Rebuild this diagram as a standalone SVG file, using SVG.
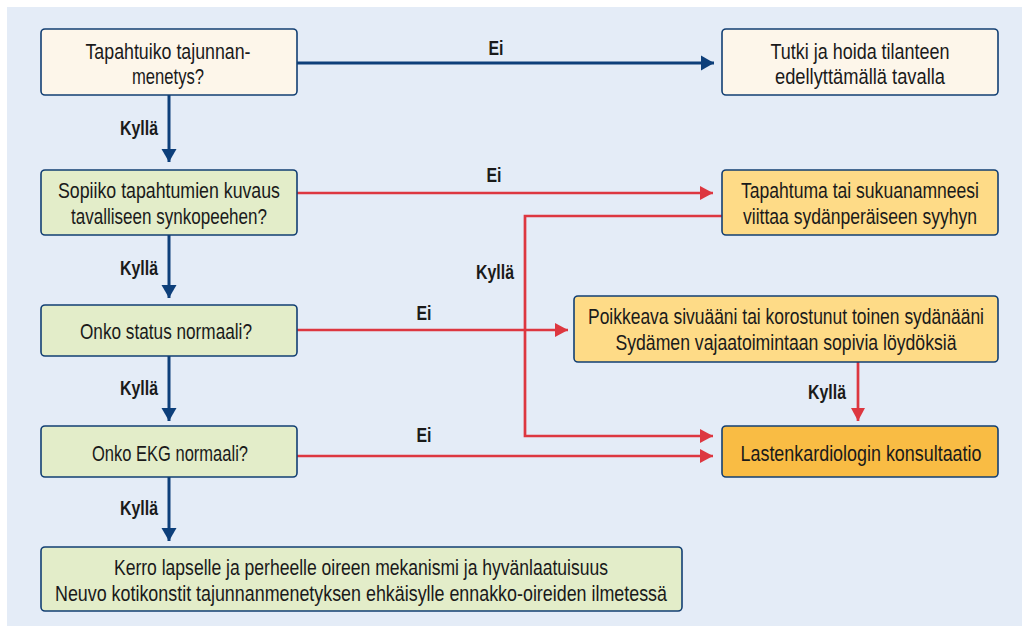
<svg xmlns="http://www.w3.org/2000/svg" width="1022" height="626" viewBox="0 0 1022 626">
<defs>
<style>
text{font-family:"Liberation Sans","Arial",sans-serif;font-size:22px;fill:#1a1a1a;text-anchor:middle}
.lbl{font-weight:bold;font-size:21px}
.box{stroke:#123f73;stroke-width:1.6}
.cream{fill:#fdf6ea}
.green{fill:#e3edc9}
.lo{fill:#fedb87}
.or{fill:#f9bc44}
.blue{stroke:#0d3f7a;stroke-width:3;fill:none}
.red{stroke:#dd3740;stroke-width:2.7;fill:none}
</style>
<marker id="ab" markerUnits="userSpaceOnUse" markerWidth="16" markerHeight="16" refX="13" refY="8" orient="auto"><path d="M0,0.5 L13,8 L0,15.5 Z" fill="#0d3f7a"/></marker>
<marker id="ar" markerUnits="userSpaceOnUse" markerWidth="16" markerHeight="16" refX="13" refY="8" orient="auto"><path d="M0,1 L13,8 L0,15 Z" fill="#dd3740"/></marker>
</defs>
<rect x="0" y="0" width="1022" height="626" fill="#ffffff"/>
<rect x="7" y="7" width="1015" height="619" fill="#e4ecf7"/>
<g id="connectors">
<path class="blue" d="M297,63 H714" marker-end="url(#ab)"/>
<path class="blue" d="M169,95 V162" marker-end="url(#ab)"/>
<path class="blue" d="M169,235 V298" marker-end="url(#ab)"/>
<path class="blue" d="M169,356 V421" marker-end="url(#ab)"/>
<path class="blue" d="M169,477 V541" marker-end="url(#ab)"/>
<path class="red" d="M297,193 H713" marker-end="url(#ar)"/>
<path class="red" d="M722,216 H525 V436 H713" marker-end="url(#ar)"/>
<path class="red" d="M297,330 H568" marker-end="url(#ar)"/>
<path class="red" d="M858,362 V421" marker-end="url(#ar)"/>
<path class="red" d="M297,456 H713" marker-end="url(#ar)"/>
<g transform="scale(0.8 1)">
<text class="lbl" x="620" y="55" textLength="18.75" lengthAdjust="spacingAndGlyphs">Ei</text>
<text class="lbl" x="173.75" y="135" textLength="47.5" lengthAdjust="spacingAndGlyphs">Kyllä</text>
<text class="lbl" x="617.5" y="182" textLength="18.75" lengthAdjust="spacingAndGlyphs">Ei</text>
<text class="lbl" x="173.75" y="275" textLength="47.5" lengthAdjust="spacingAndGlyphs">Kyllä</text>
<text class="lbl" x="618.75" y="279" textLength="47.5" lengthAdjust="spacingAndGlyphs">Kyllä</text>
<text class="lbl" x="530" y="320" textLength="18.75" lengthAdjust="spacingAndGlyphs">Ei</text>
<text class="lbl" x="173.75" y="395" textLength="47.5" lengthAdjust="spacingAndGlyphs">Kyllä</text>
<text class="lbl" x="1033.75" y="399" textLength="47.5" lengthAdjust="spacingAndGlyphs">Kyllä</text>
<text class="lbl" x="530" y="442" textLength="18.75" lengthAdjust="spacingAndGlyphs">Ei</text>
<text class="lbl" x="173.75" y="515" textLength="47.5" lengthAdjust="spacingAndGlyphs">Kyllä</text>
</g>
</g>
<g id="n1"><rect class="box cream" x="41" y="29" width="256" height="66" rx="4"/><g transform="scale(0.8 1)"><text x="210" y="59" textLength="206.25" lengthAdjust="spacingAndGlyphs">Tapahtuiko tajunnan-</text><text x="210" y="84" textLength="90" lengthAdjust="spacingAndGlyphs">menetys?</text></g></g>
<g id="n2"><rect class="box cream" x="722" y="29" width="276" height="66" rx="4"/><g transform="scale(0.8 1)"><text x="1075" y="59" textLength="223.75" lengthAdjust="spacingAndGlyphs">Tutki ja hoida tilanteen</text><text x="1075" y="84" textLength="212.5" lengthAdjust="spacingAndGlyphs">edellyttämällä tavalla</text></g></g>
<g id="n3"><rect class="box green" x="41" y="170" width="256" height="65" rx="4"/><g transform="scale(0.8 1)"><text x="211.25" y="198" textLength="277.5" lengthAdjust="spacingAndGlyphs">Sopiiko tapahtumien kuvaus</text><text x="211.25" y="224" textLength="245" lengthAdjust="spacingAndGlyphs">tavalliseen synkopeehen?</text></g></g>
<g id="n4"><rect class="box lo" x="722" y="170" width="276" height="65" rx="4"/><g transform="scale(0.8 1)"><text x="1075" y="198" textLength="297.5" lengthAdjust="spacingAndGlyphs">Tapahtuma tai sukuanamneesi</text><text x="1075" y="224" textLength="292.5" lengthAdjust="spacingAndGlyphs">viittaa sydänperäiseen syyhyn</text></g></g>
<g id="n5"><rect class="box green" x="41" y="305" width="256" height="51" rx="4"/><g transform="scale(0.8 1)"><text x="207.5" y="339" textLength="215" lengthAdjust="spacingAndGlyphs">Onko status normaali?</text></g></g>
<g id="n6"><rect class="box lo" x="574" y="296" width="424" height="66" rx="4"/><g transform="scale(0.8 1)"><text x="982.5" y="324" textLength="495" lengthAdjust="spacingAndGlyphs">Poikkeava sivuääni tai korostunut toinen sydänääni</text><text x="982.5" y="350" textLength="426.25" lengthAdjust="spacingAndGlyphs">Sydämen vajaatoimintaan sopivia löydöksiä</text></g></g>
<g id="n7"><rect class="box green" x="41" y="426" width="256" height="51" rx="4"/><g transform="scale(0.8 1)"><text x="212.5" y="461" textLength="195" lengthAdjust="spacingAndGlyphs">Onko EKG normaali?</text></g></g>
<g id="n8"><rect class="box or" x="722" y="426" width="276" height="51" rx="4"/><g transform="scale(0.8 1)"><text x="1076.25" y="461" textLength="301.25" lengthAdjust="spacingAndGlyphs">Lastenkardiologin konsultaatio</text></g></g>
<g id="n9"><rect class="box green" x="41" y="547" width="641" height="64" rx="4"/><g transform="scale(0.8 1)"><text x="451.25" y="575" textLength="617.5" lengthAdjust="spacingAndGlyphs">Kerro lapselle ja perheelle oireen mekanismi ja hyvänlaatuisuus</text><text x="451.25" y="601" textLength="765" lengthAdjust="spacingAndGlyphs">Neuvo kotikonstit tajunnanmenetyksen ehkäisylle ennakko-oireiden ilmetessä</text></g></g>
</svg>
